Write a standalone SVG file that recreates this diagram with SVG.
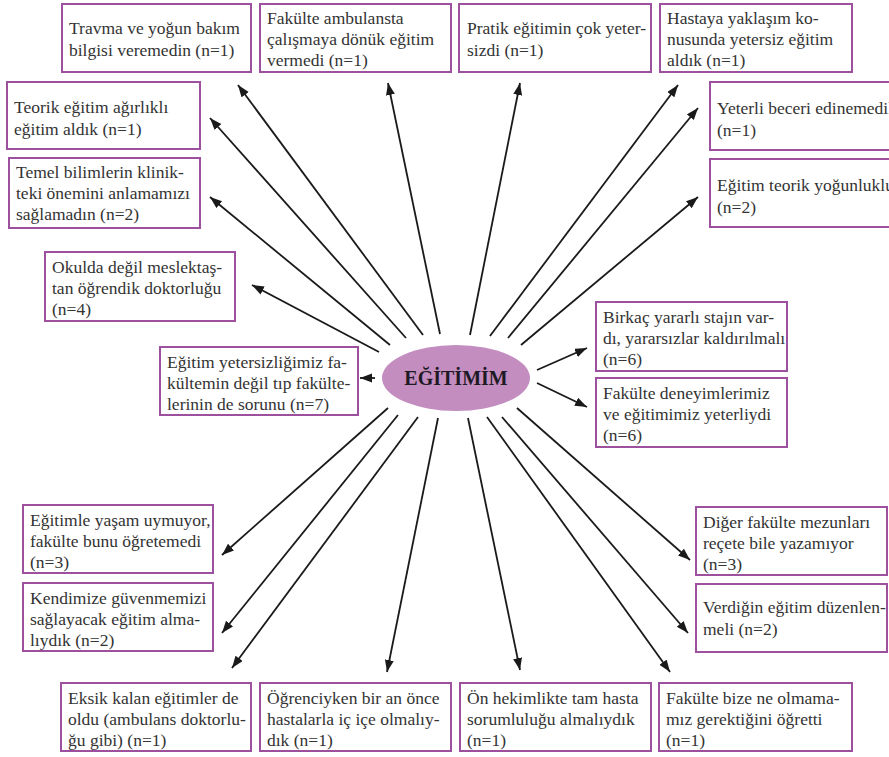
<svg xmlns="http://www.w3.org/2000/svg" width="889" height="757" viewBox="0 0 889 757">
  <style>
    .box rect { fill: #ffffff; stroke: #9c509e; stroke-width: 2; }
    .box text { font-family: "Liberation Serif", "Times New Roman", serif; font-size: 17.5px; fill: #333333; }
    .edge { stroke: #1a1a1a; stroke-width: 1.8; fill: none; marker-end: url(#arrow); }
    .hub text { font-family: "Liberation Serif", "Times New Roman", serif; font-size: 20px; font-weight: bold; fill: #1e1a24; }
  </style>
  <defs>
    <marker id="arrow" markerUnits="userSpaceOnUse" markerWidth="13" markerHeight="10" refX="12" refY="4.5" orient="auto">
      <path d="M0,0 L12,4.5 L0,9 Z" fill="#1a1a1a"/>
    </marker>
  </defs>
  <rect width="889" height="757" fill="#ffffff"/>

  <!-- connectors: hub to each comment box -->
  <g id="connectors">
    <line class="edge" x1="379" y1="352" x2="252" y2="285"/>
    <line class="edge" x1="390" y1="345" x2="210" y2="197"/>
    <line class="edge" x1="406" y1="338" x2="210" y2="118"/>
    <line class="edge" x1="423" y1="335" x2="238" y2="85"/>
    <line class="edge" x1="440" y1="334" x2="388" y2="83"/>
    <line class="edge" x1="470" y1="335" x2="520" y2="83"/>
    <line class="edge" x1="490" y1="336" x2="678" y2="85"/>
    <line class="edge" x1="508" y1="338" x2="698" y2="108"/>
    <line class="edge" x1="521" y1="345" x2="698" y2="197"/>
    <line class="edge" x1="537" y1="370" x2="587" y2="348"/>
    <line class="edge" x1="537" y1="383" x2="587" y2="407"/>
    <line class="edge" x1="375" y1="378" x2="360" y2="378"/>
    <line class="edge" x1="388" y1="408" x2="222" y2="555"/>
    <line class="edge" x1="398" y1="415" x2="222" y2="633"/>
    <line class="edge" x1="418" y1="417" x2="232" y2="668"/>
    <line class="edge" x1="438" y1="418" x2="387" y2="672"/>
    <line class="edge" x1="468" y1="418" x2="520" y2="670"/>
    <line class="edge" x1="487" y1="417" x2="670" y2="672"/>
    <line class="edge" x1="502" y1="417" x2="688" y2="633"/>
    <line class="edge" x1="517" y1="408" x2="690" y2="560"/>
  </g>

  <!-- central node -->
  <g id="hub" class="hub">
    <ellipse cx="456" cy="378" rx="74" ry="33" fill="#c48dc0"/>
    <text x="456" y="385" text-anchor="middle">EĞİTİMİM</text>
  </g>

  <!-- top row -->
  <g id="travma" class="box">
    <rect x="62" y="4" width="189" height="68"/>
    <text x="69" y="34">Travma ve yoğun bakım</text>
    <text x="69" y="56">bilgisi veremedin (n=1)</text>
  </g>
  <g id="ambulans" class="box">
    <rect x="260" y="4" width="191" height="68"/>
    <text x="267" y="24">Fakülte ambulansta</text>
    <text x="267" y="45">çalışmaya dönük eğitim</text>
    <text x="267" y="66">vermedi (n=1)</text>
  </g>
  <g id="pratik" class="box">
    <rect x="459" y="4" width="192" height="68"/>
    <text x="467" y="34">Pratik eğitimin çok yeter-</text>
    <text x="467" y="56">sizdi (n=1)</text>
  </g>
  <g id="hastaya" class="box">
    <rect x="660" y="4" width="192" height="68"/>
    <text x="667" y="24">Hastaya yaklaşım ko-</text>
    <text x="667" y="45">nusunda yetersiz eğitim</text>
    <text x="667" y="66">aldık (n=1)</text>
  </g>

  <!-- left column -->
  <g id="teorik" class="box">
    <rect x="7" y="82" width="193" height="67"/>
    <text x="14" y="113">Teorik eğitim ağırlıklı</text>
    <text x="14" y="135">eğitim aldık (n=1)</text>
  </g>
  <g id="temel" class="box">
    <rect x="9" y="158" width="191" height="70"/>
    <text x="16" y="178">Temel bilimlerin klinik-</text>
    <text x="16" y="199">teki önemini anlamamızı</text>
    <text x="16" y="220">sağlamadın (n=2)</text>
  </g>
  <g id="okulda" class="box">
    <rect x="45" y="252" width="190" height="69"/>
    <text x="52" y="273">Okulda değil meslektaş-</text>
    <text x="52" y="294">tan öğrendik doktorluğu</text>
    <text x="52" y="315">(n=4)</text>
  </g>
  <g id="yetersizlik" class="box">
    <rect x="160" y="347" width="198" height="68"/>
    <text x="167" y="368">Eğitim yetersizliğimiz fa-</text>
    <text x="167" y="389">kültemin değil tıp fakülte-</text>
    <text x="167" y="410">lerinin de sorunu (n=7)</text>
  </g>

  <!-- right column -->
  <g id="beceri" class="box">
    <rect x="710" y="82" width="200" height="68"/>
    <text x="717" y="114">Yeterli beceri edinemedik</text>
    <text x="717" y="136">(n=1)</text>
  </g>
  <g id="yogunluk" class="box">
    <rect x="710" y="159" width="200" height="68"/>
    <text x="717" y="191">Eğitim teorik yoğunluklu</text>
    <text x="717" y="213">(n=2)</text>
  </g>
  <g id="staj" class="box">
    <rect x="596" y="302" width="191" height="69"/>
    <text x="603" y="323">Birkaç yararlı stajın var-</text>
    <text x="603" y="344">dı, yararsızlar kaldırılmalı</text>
    <text x="603" y="365">(n=6)</text>
  </g>
  <g id="deneyim" class="box">
    <rect x="596" y="378" width="191" height="69"/>
    <text x="603" y="399">Fakülte deneyimlerimiz</text>
    <text x="603" y="420">ve eğitimimiz yeterliydi</text>
    <text x="603" y="441">(n=6)</text>
  </g>

  <!-- lower left -->
  <g id="yasam" class="box">
    <rect x="23" y="505" width="190" height="68"/>
    <text x="30" y="526">Eğitimle yaşam uymuyor,</text>
    <text x="30" y="547">fakülte bunu öğretemedi</text>
    <text x="30" y="568">(n=3)</text>
  </g>
  <g id="guven" class="box">
    <rect x="23" y="583" width="190" height="68"/>
    <text x="30" y="604">Kendimize güvenmemizi</text>
    <text x="30" y="625">sağlayacak eğitim alma-</text>
    <text x="30" y="646">lıydık (n=2)</text>
  </g>

  <!-- bottom row -->
  <g id="eksik" class="box">
    <rect x="61" y="683" width="190" height="68"/>
    <text x="68" y="704">Eksik kalan eğitimler de</text>
    <text x="68" y="725">oldu (ambulans doktorlu-</text>
    <text x="68" y="746">ğu gibi) (n=1)</text>
  </g>
  <g id="ogrenci" class="box">
    <rect x="260" y="683" width="191" height="68"/>
    <text x="267" y="704">Öğrenciyken bir an önce</text>
    <text x="267" y="725">hastalarla iç içe olmalıy-</text>
    <text x="267" y="746">dık (n=1)</text>
  </g>
  <g id="sorumluluk" class="box">
    <rect x="460" y="683" width="191" height="68"/>
    <text x="467" y="704">Ön hekimlikte tam hasta</text>
    <text x="467" y="725">sorumluluğu almalıydık</text>
    <text x="467" y="746">(n=1)</text>
  </g>
  <g id="olmamamiz" class="box">
    <rect x="659" y="683" width="193" height="68"/>
    <text x="666" y="704">Fakülte bize ne olmama-</text>
    <text x="666" y="725">mız gerektiğini öğretti</text>
    <text x="666" y="746">(n=1)</text>
  </g>

  <!-- lower right -->
  <g id="recete" class="box">
    <rect x="696" y="507" width="191" height="68"/>
    <text x="703" y="528">Diğer fakülte mezunları</text>
    <text x="703" y="549">reçete bile yazamıyor</text>
    <text x="703" y="570">(n=3)</text>
  </g>
  <g id="duzen" class="box">
    <rect x="696" y="584" width="191" height="68"/>
    <text x="703" y="613">Verdiğin eğitim düzenlen-</text>
    <text x="703" y="635">meli (n=2)</text>
  </g>
</svg>
